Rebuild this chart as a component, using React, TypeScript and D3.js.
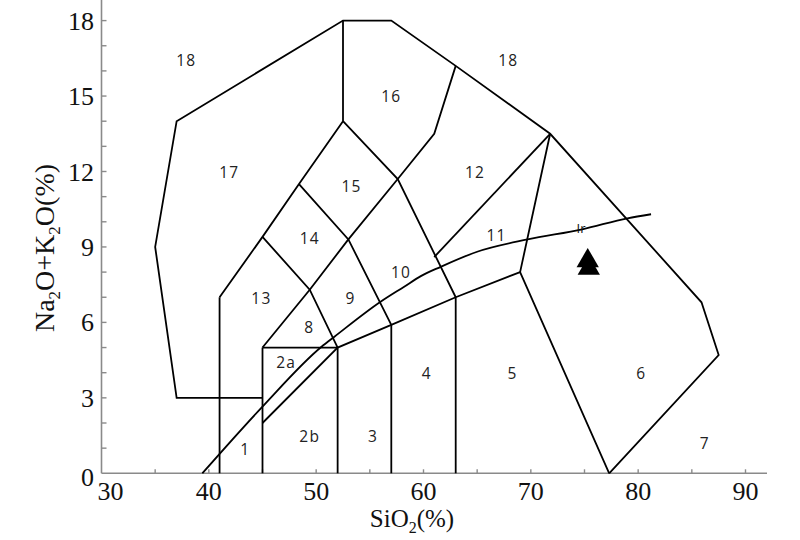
import React from "react";
import * as d3 from "d3";

// ---------- data (SiO2 %, Na2O+K2O %) ----------
const xTicks = [30, 40, 50, 60, 70, 80, 90];
const xMinorTicks = [35, 45, 55, 65, 75, 85];
const yTickLabels = [0, 3, 6, 9, 12, 15, 18];
const yMinorTicks = [1, 2, 4, 5, 7, 8, 10, 11, 13, 14, 16, 17];

const outerBoundary: [number, number][] = [
  [45, 3], [37, 3], [35, 9], [37, 14], [52.5, 18], [57, 18], [63, 16.2],
  [71.8, 13.5], [85.9, 6.8], [87.5, 4.7], [77.3, 0],
];
const graniteLeft: [number, number][] = [[77.3, 0], [69, 8], [71.8, 13.5]];
const subalkalineBase: [number, number][] = [[45, 2], [52, 5], [57, 5.9], [63, 7], [69, 8]];
const verticals: [number, number][][] = [
  [[41, 0], [41, 7]],
  [[45, 0], [45, 5]],
  [[52, 0], [52, 5]],
  [[57, 0], [57, 5.9]],
  [[63, 0], [63, 7]],
  [[52.5, 14], [52.5, 18]],
];
const gabbroTop: [number, number][] = [[45, 5], [52, 5]];
const diagUp1: [number, number][] = [[41, 7], [45, 9.4], [48.4, 11.5], [52.5, 14]];
const diagUp2: [number, number][] = [[45, 5], [49.4, 7.3], [53, 9.3], [57.6, 11.7]];
const diagDown1: [number, number][] = [[45, 9.4], [49.4, 7.3], [52, 5]];
const diagDown2: [number, number][] = [[48.4, 11.5], [53, 9.3], [57, 5.9]];
const diagDown3: [number, number][] = [[52.5, 14], [57.6, 11.7], [63, 7]];
const syeniteLeft: [number, number][] = [[57.6, 11.7], [61, 13.5], [63, 16.2]];
const syeniteBase: [number, number][] = [[61, 8.6], [71.8, 13.5]];

const irvineCurve: [number, number][] = [
  [39.4, 0], [45, 2.65], [50.5, 5.03], [51.7, 5.43], [56, 6.82], [58.2, 7.42],
  [59.75, 7.84], [61.6, 8.21], [65, 8.81], [69.7, 9.3], [74.8, 9.7], [79, 10.14], [81.2, 10.3],
];

const fieldLabels = ["18", "18", "16", "17", "15", "12", "14", "11", "10", "13", "9", "8", "2a", "4", "5", "6", "2b", "3", "1", "7"];
const fieldX = [37.9, 67.9, 57.0, 41.9, 53.3, 64.8, 49.4, 66.8, 57.9, 44.9, 53.2, 49.35, 47.2, 60.3, 68.3, 80.3, 49.4, 55.3, 43.4, 86.2];
const fieldY = [16.4, 16.4, 15.0, 11.95, 11.4, 11.95, 9.35, 9.45, 7.97, 6.97, 6.97, 5.78, 4.39, 3.95, 3.95, 3.95, 1.45, 1.45, 0.93, 1.17];

const sampleSiO2 = [75.3, 75.4];
const sampleAlk = [8.45, 8.15];

export default function App() {
  const W = 800;
  const H = 540;
  const x = d3.scaleLinear().domain([30, 90]).range([101.5, 745.5]);
  const y = d3.scaleLinear().domain([0, 18]).range([473.3, 20.6]);
  const line = d3.line<[number, number]>().x((d) => x(d[0])).y((d) => y(d[1]));
  const curve = d3
    .line<[number, number]>()
    .x((d) => x(d[0]))
    .y((d) => y(d[1]))
    .curve(d3.curveMonotoneX);

  const polylines = [
    outerBoundary, graniteLeft, subalkalineBase, ...verticals, gabbroTop,
    diagUp1, diagUp2, diagDown1, diagDown2, diagDown3, syeniteLeft, syeniteBase,
  ];
  const tri = d3.symbol().type(d3.symbolTriangle).size(215)();
  const axisColor = "#8a8a8a";
  const x0 = x(30);
  const y0 = y(0);
  const serif = "'Liberation Serif', 'Times New Roman', serif";

  return (
    <svg width={W} height={H} style={{ position: "absolute", left: 0, top: 0, background: "#fff" }}>
      <rect width={W} height={H} fill="#fff" />
      {/* axes */}
      <line x1={x0} x2={x0} y1={0} y2={y0} stroke={axisColor} strokeWidth={1.6} />
      <line x1={x0} x2={767} y1={y0} y2={y0} stroke={axisColor} strokeWidth={1.6} />
      {[...xTicks.slice(1), ...xMinorTicks].map((t) => (
        <line key={"xt" + t} x1={x(t)} x2={x(t)} y1={y0} y2={y0 - 4} stroke={axisColor} strokeWidth={1.4} />
      ))}
      {[...yTickLabels.slice(1), ...yMinorTicks].map((t) => (
        <line key={"yt" + t} x1={x0} x2={x0 + 5} y1={y(t)} y2={y(t)} stroke={axisColor} strokeWidth={1.4} />
      ))}
      {xTicks.map((t, i) => (
        <text key={"xl" + t} x={x(t) + (i === 0 ? 9 : 0)} y={500} textAnchor="middle" fontFamily={serif} fontSize={26} fill="#111">
          {t}
        </text>
      ))}
      {yTickLabels.map((t, i) => (
        <text key={"yl" + t} x={94} y={y(t) + (i === 0 ? 13 : 9)} textAnchor="end" fontFamily={serif} fontSize={26} fill="#111">
          {t}
        </text>
      ))}
      {/* axis titles */}
      <text x={412} y={527} textAnchor="middle" fontFamily={serif} fontSize={25} fill="#111">
        SiO<tspan fontSize={16} dy={6}>2</tspan><tspan dy={-6}>(%)</tspan>
      </text>
      <text transform={`translate(54,248) rotate(-90)`} textAnchor="middle" fontFamily={serif} fontSize={28} fill="#111">
        Na<tspan fontSize={17} dy={6}>2</tspan><tspan dy={-6}>O+K</tspan><tspan fontSize={17} dy={6}>2</tspan><tspan dy={-6}>O(%)</tspan>
      </text>
      {/* field boundaries */}
      <g fill="none" stroke="#000" strokeWidth={1.8} strokeLinejoin="miter">
        {polylines.map((p, i) => (
          <path key={"pl" + i} d={line(p) || ""} />
        ))}
        <path d={curve(irvineCurve) || ""} />
      </g>
      {/* field labels */}
      {fieldLabels.map((l, i) => (
        <text key={"fl" + i} x={x(fieldX[i])} y={y(fieldY[i]) + 5.5} textAnchor="middle" fontFamily="'Open Sans', 'DejaVu Sans', sans-serif" fontSize={15.5} letterSpacing={1.2} fill="#222">
          {l}
        </text>
      ))}
      <text x={581} y={233} textAnchor="middle" fontFamily="'Open Sans', sans-serif" fontSize={13} fill="#111">
        Ir
      </text>
      {/* samples */}
      {sampleSiO2.map((s, i) => (
        <path key={"s" + i} d={tri || ""} transform={`translate(${x(s)},${y(sampleAlk[i])})`} fill="#000" />
      ))}
    </svg>
  );
}
